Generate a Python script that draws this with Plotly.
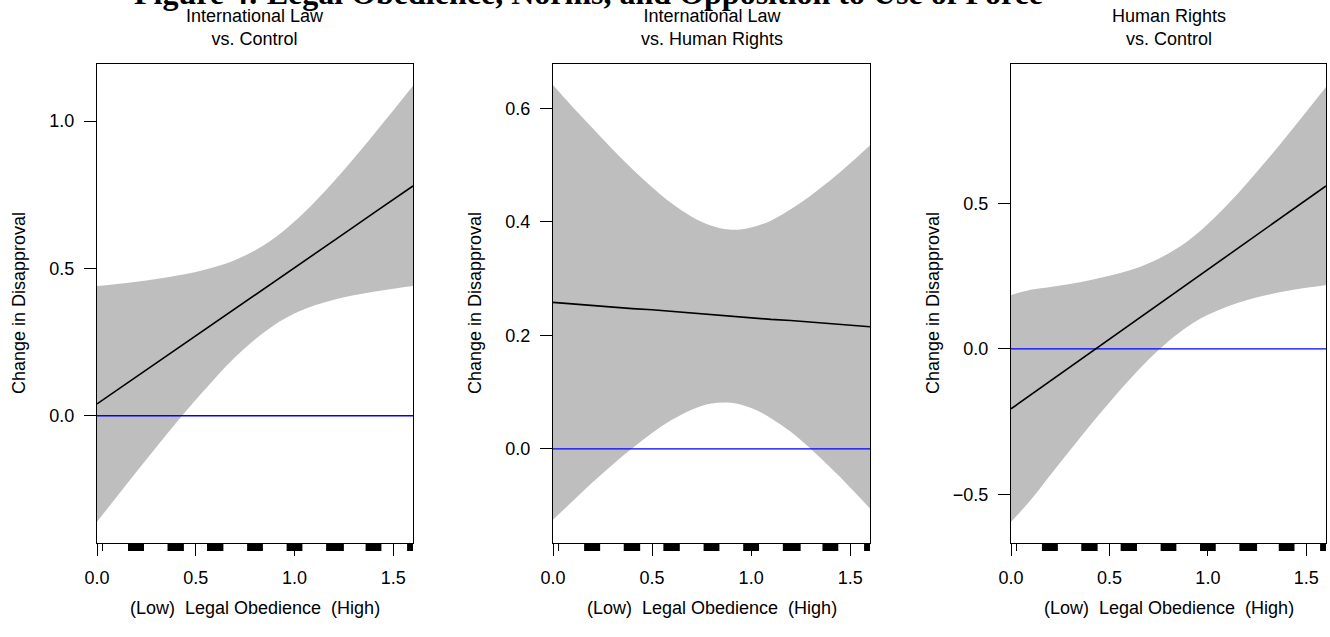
import plotly.graph_objects as go

# ---------------- data ----------------
x_grid = [0.0, 0.1, 0.2, 0.3, 0.4, 0.5, 0.6, 0.7, 0.8, 0.9, 1.0, 1.1, 1.2, 1.3, 1.4, 1.5, 1.6]

# Panel 1: International Law vs. Control
p1_mean = [0.040, 0.086, 0.133, 0.179, 0.225, 0.271, 0.318, 0.364, 0.410, 0.456, 0.503, 0.549, 0.595, 0.641, 0.688, 0.734, 0.780]
p1_upper = [0.440, 0.447, 0.455, 0.464, 0.475, 0.488, 0.506, 0.529, 0.561, 0.604, 0.659, 0.724, 0.796, 0.873, 0.954, 1.036, 1.120]
p1_lower = [-0.360, -0.275, -0.190, -0.107, -0.025, 0.054, 0.129, 0.199, 0.259, 0.309, 0.347, 0.374, 0.394, 0.409, 0.421, 0.431, 0.440]

# Panel 2: International Law vs. Human Rights
p2_mean = [0.258, 0.255, 0.253, 0.250, 0.247, 0.245, 0.242, 0.239, 0.236, 0.234, 0.231, 0.228, 0.226, 0.223, 0.220, 0.218, 0.215]
p2_upper = [0.641, 0.602, 0.565, 0.528, 0.493, 0.461, 0.432, 0.409, 0.393, 0.386, 0.390, 0.402, 0.422, 0.446, 0.473, 0.503, 0.535]
p2_lower = [-0.125, -0.092, -0.059, -0.028, 0.001, 0.028, 0.051, 0.069, 0.080, 0.081, 0.072, 0.054, 0.030, 0.000, -0.033, -0.068, -0.105]

# Panel 3: Human Rights vs. Control
p3_mean = [-0.206, -0.158, -0.110, -0.062, -0.014, 0.034, 0.081, 0.129, 0.177, 0.225, 0.273, 0.321, 0.369, 0.417, 0.465, 0.513, 0.560]
p3_upper = [0.185, 0.203, 0.213, 0.223, 0.236, 0.251, 0.269, 0.294, 0.328, 0.372, 0.429, 0.496, 0.570, 0.649, 0.731, 0.815, 0.900]
p3_lower = [-0.595, -0.519, -0.433, -0.348, -0.264, -0.184, -0.107, -0.036, 0.026, 0.078, 0.117, 0.146, 0.168, 0.185, 0.199, 0.210, 0.220]

# Rug of observed Legal Obedience values (clusters: low / high edge)
rug_lo = [0.157, 0.357, 0.557, 0.760, 0.960, 1.160, 1.360, 1.570]
rug_hi = [0.238, 0.440, 0.640, 0.840, 1.040, 1.250, 1.440, 1.600]
rug_single = [0.0, 0.028]

panel_titles = ["International Law<br>vs. Control",
                "International Law<br>vs. Human Rights",
                "Human Rights<br>vs. Control"]
y_ranges = [[-0.432, 1.194], [-0.166, 0.678], [-0.667, 0.979]]
y_ticks = [[0.0, 0.5, 1.0], [0.0, 0.2, 0.4, 0.6], [-0.5, 0.0, 0.5]]
y_ticktext = [["0.0", "0.5", "1.0"], ["0.0", "0.2", "0.4", "0.6"], ["\u22120.5", "0.0", "0.5"]]
x_ticks = [0.0, 0.5, 1.0, 1.5]
x_ticktext = ["0.0", "0.5", "1.0", "1.5"]
x_title = "(Low)  Legal Obedience  (High)"
y_title = "Change in Disapproval"
fig_title = "Figure 4: Legal Obedience, Norms, and Opposition to Use of Force"

# ---------------- layout geometry ----------------
W, H = 1330, 637
panels_px = [(97, 413), (553, 870), (1011, 1326)]
top_px, bot_px, rug_bot_px = 64, 543, 551
FONT = "Liberation Sans, Arial, Helvetica, sans-serif"

fig = go.Figure()
means = [p1_mean, p2_mean, p3_mean]
uppers = [p1_upper, p2_upper, p3_upper]
lowers = [p1_lower, p2_lower, p3_lower]

layout = dict(width=W, height=H, autosize=False,
              margin=dict(l=0, r=0, t=0, b=0, pad=0, autoexpand=False),
              paper_bgcolor="white", plot_bgcolor="white", showlegend=False,
              font=dict(family=FONT, size=18, color="black"))
annotations = []

for i in range(3):
    xa = f"x{i+1}" if i else "x"
    ya = f"y{i+1}" if i else "y"
    xr = f"x{i+4}"
    yr = f"y{i+4}"
    x0, x1 = panels_px[i]
    dom_x = [x0 / W, x1 / W]
    # band (lower then upper filled to it)
    fig.add_trace(go.Scatter(x=x_grid, y=lowers[i], mode="lines",
                             line=dict(width=0, shape="spline", smoothing=1.0),
                             hoverinfo="skip", xaxis=xa, yaxis=ya))
    fig.add_trace(go.Scatter(x=x_grid, y=uppers[i], mode="lines", fill="tonexty",
                             fillcolor="#BEBEBE",
                             line=dict(width=0, shape="spline", smoothing=1.0),
                             hoverinfo="skip", xaxis=xa, yaxis=ya))
    # zero line
    fig.add_trace(go.Scatter(x=[x_grid[0], x_grid[-1]], y=[0, 0], mode="lines",
                             line=dict(color="#0000FF", width=1.3), xaxis=xa, yaxis=ya))
    # mean
    fig.add_trace(go.Scatter(x=x_grid, y=means[i], mode="lines",
                             line=dict(color="black", width=1.6), xaxis=xa, yaxis=ya))
    # rug
    for lo, hi in zip(rug_lo, rug_hi):
        fig.add_trace(go.Scatter(x=[lo, hi, hi, lo, lo], y=[0, 0, 1, 1, 0], fill="toself",
                                 fillcolor="black", line=dict(width=0), mode="lines",
                                 hoverinfo="skip", xaxis=xr, yaxis=yr))
    for v in rug_single:
        fig.add_trace(go.Scatter(x=[v, v], y=[0, 1], mode="lines",
                                 line=dict(color="black", width=1), xaxis=xr, yaxis=yr))

    kx = "xaxis" + (str(i + 1) if i else "")
    ky = "yaxis" + (str(i + 1) if i else "")
    layout[kx] = dict(domain=dom_x, range=[0, 1.6], anchor=ya, showgrid=False, zeroline=False,
                      showline=True, mirror=True, linecolor="black", linewidth=1.3,
                      ticks="outside", ticklen=12, tickwidth=1.3, tickcolor="black",
                      tickvals=x_ticks, ticktext=x_ticktext, ticklabelstandoff=6,
                      tickfont=dict(size=18), automargin=False)
    layout[ky] = dict(domain=[1 - bot_px / H, 1 - top_px / H], range=y_ranges[i], anchor=xa,
                      showgrid=False, zeroline=False, showline=True, mirror=True,
                      linecolor="black", linewidth=1.3, ticks="outside", ticklen=12,
                      tickwidth=1.3, tickcolor="black", tickvals=y_ticks[i],
                      ticktext=y_ticktext[i], ticklabelstandoff=6, tickfont=dict(size=18),
                      automargin=False)
    layout[f"xaxis{i+4}"] = dict(domain=dom_x, range=[0, 1.6], anchor=yr, visible=False,
                                 automargin=False)
    layout[f"yaxis{i+4}"] = dict(domain=[1 - rug_bot_px / H, 1 - bot_px / H], range=[0, 1],
                                 anchor=xr, visible=False, automargin=False)

    cx = (x0 + x1) / 2 / W
    annotations.append(dict(text=panel_titles[i], x=cx, y=1 - 28 / H, xref="paper", yref="paper",
                            showarrow=False, font=dict(size=18), xanchor="center",
                            yanchor="middle"))
    annotations.append(dict(text=x_title, x=cx, y=1 - 608 / H, xref="paper", yref="paper",
                            showarrow=False, font=dict(size=18), xanchor="center",
                            yanchor="middle"))
    annotations.append(dict(text=y_title, x=(x0 - 78) / W, y=1 - 303 / H, xref="paper",
                            yref="paper", showarrow=False, font=dict(size=18), textangle=-90,
                            xanchor="center", yanchor="middle"))

annotations.append(dict(text="<b>" + fig_title + "</b>", x=132 / W, y=1 - 13 / H, xref="paper",
                        yref="paper", showarrow=False, xanchor="left", yanchor="bottom",
                        font=dict(family="Liberation Serif, Times New Roman, serif", size=32)))
layout["annotations"] = annotations
fig.update_layout(**layout)
fig.write_html("out.html", config={"displayModeBar": False, "responsive": False},
               post_script="document.body.style.margin='0';document.body.style.padding='0';")
